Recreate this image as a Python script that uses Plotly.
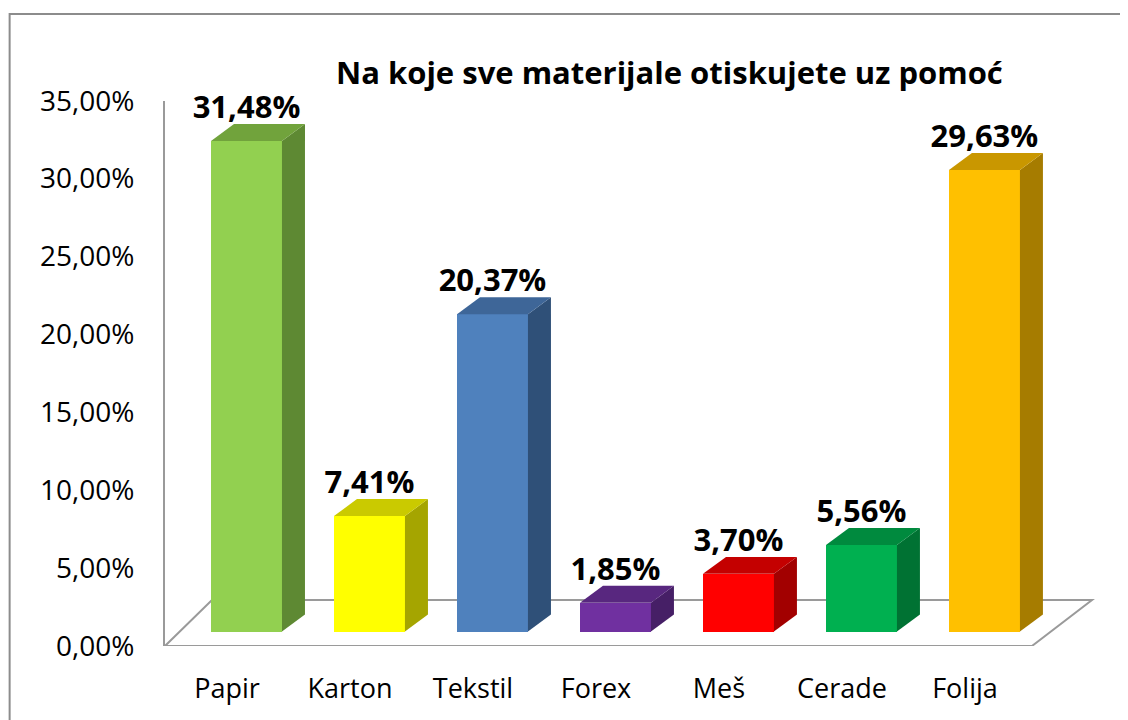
import plotly.graph_objects as go

# ---- data ----
categories = ["Papir", "Karton", "Tekstil", "Forex", "Meš", "Cerade", "Folija"]
values = [31.48, 7.41, 20.37, 1.85, 3.70, 5.56, 29.63]
value_labels = ["31,48%", "7,41%", "20,37%", "1,85%", "3,70%", "5,56%", "29,63%"]
tick_vals = [0, 5, 10, 15, 20, 25, 30, 35]
tick_text = ["0,00%", "5,00%", "10,00%", "15,00%", "20,00%", "25,00%", "30,00%", "35,00%"]
title_text = "Na koje sve materijale otiskujete uz pomoć"

front_colors = ["#92D050", "#FFFF00", "#4F81BD", "#7030A0", "#FF0000", "#00B050", "#FFC000"]
top_colors = ["#71A33C", "#CACA00", "#3E6698", "#58277F", "#C40000", "#008A3E", "#C99700"]
side_colors = ["#5E8933", "#A5A500", "#2F5078", "#461F66", "#A20000", "#007233", "#A67C00"]

# ---- geometry (style) ----
W, H = 1128, 720
OFF = 8               # page body margin offset
FONT = "Open Sans"
x_shift = 0.1585      # bar front offset from category position (3D depth)
bar_w = 0.577
base = 0.93           # depth offset of bar bottoms (in % units)
dx = 0.187            # side depth in category units
dy = 1.09             # side depth in % units
x_range = [-0.504, 7.098]
y_range = [0, 35]
x_dom = [(165 - OFF) / W, (1100 - OFF) / W]
y_dom = [1 - (646 - OFF) / H, 1 - (100.7 - OFF) / H]

xs = [i + x_shift for i in range(len(categories))]

fig = go.Figure()

# front faces
fig.add_trace(go.Bar(
    x=xs, y=values, base=base, width=bar_w,
    marker=dict(color=front_colors, line=dict(width=0)),
    hoverinfo="skip", showlegend=False,
))

# top and side faces
for xc, v, tc, sc in zip(xs, values, top_colors, side_colors):
    x0, x1 = xc - bar_w / 2, xc + bar_w / 2
    yt = v + base
    fig.add_trace(go.Scatter(
        x=[x1, x1 + dx, x1 + dx, x1, x1],
        y=[base, base + dy, yt + dy, yt, base],
        fill="toself", fillcolor=sc, mode="lines", line=dict(width=0, color=sc),
        hoverinfo="skip", showlegend=False,
    ))
    fig.add_trace(go.Scatter(
        x=[x0, x1, x1 + dx, x0 + dx, x0],
        y=[yt, yt, yt + dy, yt + dy, yt],
        fill="toself", fillcolor=tc, mode="lines", line=dict(width=0, color=tc),
        hoverinfo="skip", showlegend=False,
    ))

# data labels
fig.add_trace(go.Scatter(
    x=xs, y=[v + 2.9 for v in values], text=value_labels, mode="text",
    textposition="middle center",
    textfont=dict(family=FONT, size=31, color="#000000", weight="bold"),
    cliponaxis=False, hoverinfo="skip", showlegend=False,
))

# floor (3D base plane)
floor_depth = 2.95
fl = [(-0.504, 0), (6.545, 0), (7.033, floor_depth), (-0.122, floor_depth)]
path = "M " + " L ".join(f"{a},{b}" for a, b in fl) + " Z"
fig.add_shape(type="path", path=path, xref="x", yref="y", layer="below",
              line=dict(color="#9A9A9A", width=2), fillcolor="white")

# outer chart border
fig.add_shape(type="rect", xref="paper", yref="paper",
              x0=(8.5 - OFF) / W + 0.001, x1=1.05, y0=-0.05, y1=1 - (14 - OFF) / H,
              line=dict(color="#8C8C8C", width=2), fillcolor="rgba(0,0,0,0)", layer="below")

fig.add_annotation(
    text=title_text, xref="paper", yref="paper", x=(669.5 - OFF) / W, y=1 - (72 - OFF) / H,
    xanchor="center", yanchor="middle", showarrow=False,
    font=dict(family=FONT, size=31, color="#000000", weight="bold"),
)

fig.update_layout(
    width=W, height=H,
    margin=dict(l=0, r=0, t=0, b=0, pad=0, autoexpand=False),
    paper_bgcolor="white", plot_bgcolor="rgba(0,0,0,0)",
    bargap=0,
    xaxis=dict(
        domain=x_dom, range=x_range, tickmode="array",
        tickvals=list(range(len(categories))), ticktext=categories,
        showgrid=False, zeroline=False, showline=False, ticks="",
        tickfont=dict(family=FONT, size=27, color="#000000"),
        ticklabelstandoff=24, fixedrange=True, automargin=False,
    ),
    yaxis=dict(
        domain=y_dom, range=y_range, tickmode="array",
        tickvals=tick_vals, ticktext=tick_text,
        showgrid=False, zeroline=False, showline=True,
        linecolor="#9A9A9A", linewidth=2, ticks="",
        tickfont=dict(family=FONT, size=28, color="#000000"),
        ticklabelstandoff=23, fixedrange=True, automargin=False,
    ),
)

fig.write_html("out.html")
